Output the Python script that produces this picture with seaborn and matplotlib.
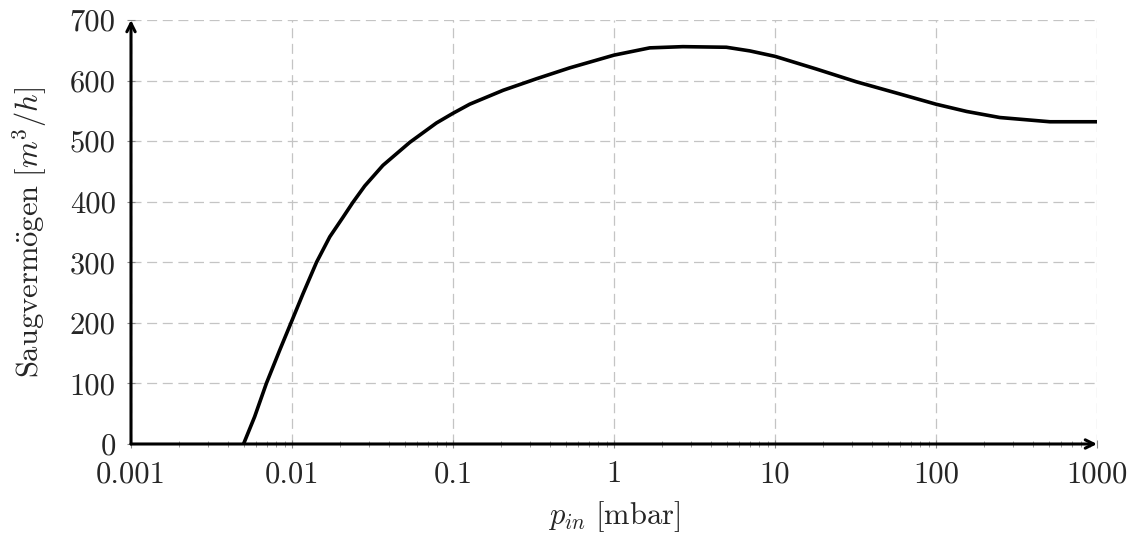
import numpy as np
import pandas as pd
import matplotlib
matplotlib.use("Agg")
import matplotlib.pyplot as plt
import matplotlib.ticker as mticker
import seaborn as sns

# Data
pressure_mbar = [0.005, 0.00586, 0.00693, 0.00839, 0.01, 0.0117, 0.0142, 0.01716,
                 0.0207, 0.0239, 0.0283, 0.0367, 0.0539, 0.0789, 0.1, 0.127,
                 0.205, 0.33, 0.531, 1.0, 1.667, 2.68, 4.99, 6.97, 10.0, 18.1,
                 32.0, 59.4, 100.0, 155.0, 249.0, 510.0, 1000.0]
pumping_speed = [0, 45, 100, 155, 204, 248, 300, 342,
                 374, 399, 426, 460, 498, 530, 546, 561,
                 584, 603, 621, 642, 654, 656, 655, 649, 640, 619,
                 598, 578, 561, 549, 539, 532, 532]

x_ticks = [0.001, 0.01, 0.1, 1, 10, 100, 1000]
x_tick_labels = ["0.001", "0.01", "0.1", "1", "10", "100", "1000"]
y_ticks = [0, 100, 200, 300, 400, 500, 600, 700]
y_tick_labels = ["0", "100", "200", "300", "400", "500", "600", "700"]

sns.set_theme(style="white")
plt.rcParams["font.family"] = ["cmr10", "DejaVu Serif"]
plt.rcParams["mathtext.fontset"] = "cm"
plt.rcParams["axes.formatter.use_mathtext"] = True
plt.rcParams["axes.unicode_minus"] = False

df = pd.DataFrame({"p": pressure_mbar, "S": pumping_speed})

fig = plt.figure(figsize=(11.34, 5.35), dpi=100)
ax = fig.add_axes([131 / 1134, 1 - 444 / 535, (1097 - 131) / 1134, (444 - 20) / 535])

ax.set_xscale("log")
ax.set_xlim(0.001, 1000)
ax.set_ylim(0, 700)

ax.grid(True, which="major", color="#c4c4c4", linewidth=0.9,
        linestyle=(0, (8, 4.5)))
ax.set_axisbelow(True)

sns.lineplot(data=df, x="p", y="S", color="black", linewidth=2.6, ax=ax,
             estimator=None, sort=False, zorder=5)

for s in ax.spines.values():
    s.set_visible(False)

# Axis arrows
arrow_style = dict(arrowstyle="->,head_length=0.5,head_width=0.25",
                   color="black", lw=2.2, shrinkA=0, shrinkB=0)
ax.annotate("", xy=(1.0, 0), xytext=(0, 0), xycoords="axes fraction",
            textcoords="axes fraction", arrowprops=arrow_style,
            zorder=6, annotation_clip=False)
ax.annotate("", xy=(0, 1.0), xytext=(0, 0), xycoords="axes fraction",
            textcoords="axes fraction", arrowprops=arrow_style,
            zorder=6, annotation_clip=False)

ax.xaxis.set_major_locator(mticker.FixedLocator(x_ticks))
ax.xaxis.set_major_formatter(mticker.FixedFormatter(x_tick_labels))
ax.xaxis.set_minor_locator(mticker.LogLocator(base=10, subs=np.arange(2, 10)))
ax.xaxis.set_minor_formatter(mticker.NullFormatter())
ax.yaxis.set_major_locator(mticker.FixedLocator(y_ticks))
ax.yaxis.set_major_formatter(mticker.FixedFormatter(y_tick_labels))

ax.tick_params(axis="both", which="major", direction="inout", length=6,
               width=0.8, color="#888888", labelsize=22,
               bottom=True, left=True)
ax.tick_params(axis="x", which="major", pad=9)
ax.tick_params(axis="y", which="major", pad=8)
ax.tick_params(axis="x", which="minor", direction="inout", length=4,
               width=0.7, color="#999999", bottom=True)

ax.set_xlabel(r"$p_{in}\ [\mathrm{mbar}]$", fontsize=22, labelpad=8)
ax.set_ylabel(r"$\mathrm{Saugverm\ddot{o}gen}\ [m^3/h]$", fontsize=22, labelpad=15)

fig.savefig("out.png", dpi=100)
